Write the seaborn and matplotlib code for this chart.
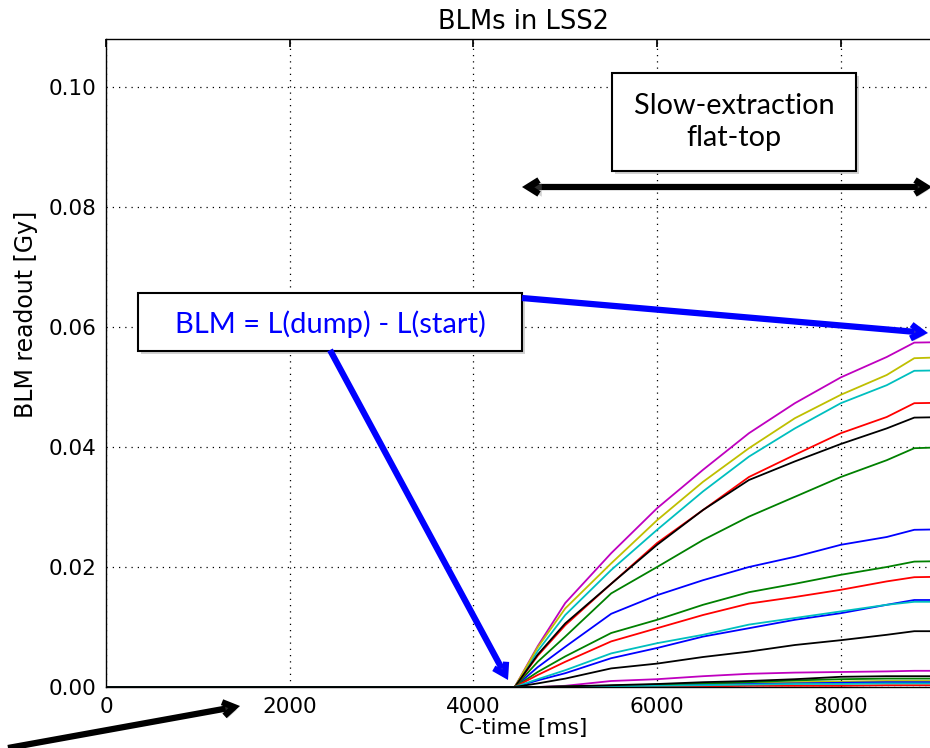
import numpy as np
import pandas as pd
import seaborn as sns
import matplotlib
matplotlib.use("Agg")
import matplotlib.pyplot as plt
from matplotlib.patches import Rectangle, FancyArrowPatch
from matplotlib.ticker import FormatStrFormatter, MultipleLocator
import matplotlib.patheffects as pe

# Sampling times of the BLM integrals [ms]
t_ms = [0, 4450, 4700, 5000, 5500, 6000, 6500, 7000, 7500, 8000, 8500, 8800, 9200]

# Integrated loss per monitor [Gy]
blm_m1 = [0, 0, 0.0068, 0.0140, 0.0223, 0.0298, 0.0362, 0.0423, 0.0473, 0.0516, 0.0550, 0.0574, 0.0575]
blm_y1 = [0, 0, 0.0066, 0.0131, 0.0206, 0.0278, 0.0342, 0.0398, 0.0448, 0.0487, 0.0520, 0.0548, 0.0550]
blm_c1 = [0, 0, 0.0060, 0.0120, 0.0195, 0.0262, 0.0326, 0.0384, 0.0431, 0.0473, 0.0503, 0.0527, 0.0528]
blm_r1 = [0, 0, 0.0052, 0.0103, 0.0172, 0.0240, 0.0295, 0.0350, 0.0387, 0.0423, 0.0450, 0.0473, 0.0474]
blm_k1 = [0, 0, 0.0054, 0.0106, 0.0172, 0.0237, 0.0295, 0.0345, 0.0376, 0.0405, 0.0431, 0.0449, 0.0450]
blm_g1 = [0, 0, 0.0042, 0.0084, 0.0156, 0.0200, 0.0245, 0.0284, 0.0317, 0.0350, 0.0378, 0.0398, 0.0400]
blm_b1 = [0, 0, 0.0033, 0.0067, 0.0122, 0.0153, 0.0178, 0.0200, 0.0217, 0.0237, 0.0250, 0.0262, 0.0263]
blm_g2 = [0, 0, 0.0025, 0.0051, 0.0090, 0.0112, 0.0137, 0.0158, 0.0172, 0.0187, 0.0200, 0.0209, 0.0210]
blm_r2 = [0, 0, 0.0020, 0.0042, 0.0076, 0.0098, 0.0120, 0.0139, 0.0150, 0.0162, 0.0176, 0.0183, 0.0184]
blm_c2 = [0, 0, 0.0013, 0.0028, 0.0056, 0.0073, 0.0087, 0.0104, 0.0115, 0.0126, 0.0137, 0.0142, 0.0142]
blm_b2 = [0, 0, 0.0011, 0.0023, 0.0048, 0.0065, 0.0084, 0.0098, 0.0112, 0.0123, 0.0137, 0.0145, 0.0145]
blm_k2 = [0, 0, 0.0006, 0.0014, 0.0031, 0.0039, 0.0050, 0.0059, 0.0070, 0.0078, 0.0087, 0.0093, 0.0093]
blm_m2 = [0, 0, 0, 0.0002, 0.0010, 0.0013, 0.0018, 0.0022, 0.0024, 0.0025, 0.0026, 0.0027, 0.0027]
blm_k3 = [0, 0, 0, 0.0001, 0.0003, 0.0005, 0.0008, 0.0010, 0.0013, 0.0017, 0.0018, 0.0018, 0.0018]
blm_g3 = [0, 0, 0, 0.0001, 0.0002, 0.0004, 0.0006, 0.0008, 0.0011, 0.0013, 0.0014, 0.0014, 0.0014]
blm_y2 = [0, 0, 0, 0, 0.0002, 0.0003, 0.0005, 0.0006, 0.0008, 0.0009, 0.0010, 0.0010, 0.0010]
blm_b3 = [0, 0, 0, 0, 0.0002, 0.0003, 0.0004, 0.0005, 0.0006, 0.0007, 0.0008, 0.0008, 0.0008]
blm_c3 = [0, 0, 0, 0, 0.0001, 0.0002, 0.0003, 0.0004, 0.0005, 0.0005, 0.0006, 0.0006, 0.0006]
blm_r3 = [0, 0, 0, 0, 0, 0.0001, 0.0001, 0.0002, 0.0002, 0.0002, 0.0003, 0.0003, 0.0003]

series = {
    "b1": blm_b1, "g1": blm_g1, "r1": blm_r1, "c1": blm_c1, "m1": blm_m1, "y1": blm_y1, "k1": blm_k1,
    "b2": blm_b2, "g2": blm_g2, "r2": blm_r2, "c2": blm_c2, "m2": blm_m2, "y2": blm_y2, "k2": blm_k2,
    "b3": blm_b3, "g3": blm_g3, "r3": blm_r3, "c3": blm_c3, "k3": blm_k3,
}
classic = {"b": "#0000ff", "g": "#008000", "r": "#ff0000", "c": "#00bfbf",
           "m": "#bf00bf", "y": "#bfbf00", "k": "#000000"}
palette = {name: classic[name[0]] for name in series}

df = pd.concat(
    [pd.DataFrame({"t": t_ms, "v": vals, "blm": name}) for name, vals in series.items()],
    ignore_index=True,
)

sns.set_theme(style="white")
plt.rcParams.update({
    "font.family": ["DejaVu Sans"],
    "text.color": "black",
    "axes.labelcolor": "black",
    "axes.titlecolor": "black",
    "axes.edgecolor": "black",
    "axes.linewidth": 1.0,
    "xtick.direction": "in",
    "ytick.direction": "in",
    "xtick.top": True,
    "ytick.right": True,
    "xtick.major.size": 6,
    "ytick.major.size": 6,
    "xtick.color": "black",
    "ytick.color": "black",
})

W, H = 930, 748
fig = plt.figure(figsize=(W / 100, H / 100), dpi=100)
ax = fig.add_axes([106 / W, 1 - 687 / H, 834 / W, 648 / H])

sns.lineplot(data=df, x="t", y="v", hue="blm", palette=palette, legend=False,
             linewidth=1.3, ax=ax, estimator=None, sort=False)

ax.set_xlim(0, 9080)
ax.set_ylim(0, 0.108)
ax.xaxis.set_major_locator(MultipleLocator(2000))
ax.yaxis.set_major_locator(MultipleLocator(0.02))
ax.yaxis.set_major_formatter(FormatStrFormatter("%.2f"))
ax.tick_params(labelsize=15.5, pad=7)
ax.grid(True, color="black", linestyle=(0, (1, 4)), linewidth=0.9)
ax.set_title("BLMs in LSS2", fontsize=18.5, pad=7)
ax.set_xlabel("C-time [ms]", fontsize=15.7, labelpad=1)
ax.set_ylabel("BLM readout [Gy]", fontsize=17)
ax.yaxis.set_label_coords(-0.082, (687 - 314) / 648)


def fpt(x, y):
    return (x / W, 1 - y / H)


shadow = [pe.SimplePatchShadow(offset=(2, -2), shadow_rgbFace="0.5", alpha=0.35), pe.Normal()]
ann_font = ["Lato", "DejaVu Sans"]

# Text boxes
for (x0, y0, x1, y1) in [(612, 73, 856, 171), (138, 293, 522, 351)]:
    r = Rectangle(fpt(x0, y1), (x1 - x0) / W, (y1 - y0) / H, transform=fig.transFigure,
                  facecolor="white", edgecolor="black", linewidth=1.5, zorder=5)
    r.set_path_effects(shadow)
    fig.add_artist(r)

fig.text(734 / W, 1 - 122 / H, "Slow-extraction\nflat-top", ha="center", va="center",
         fontsize=20.8, family=ann_font, color="black", linespacing=1.25, zorder=6)
fig.text(330 / W, 1 - 324 / H, "BLM = L(dump) - L(start)", ha="center", va="center",
         fontsize=21, family=ann_font, color="#0000ff", zorder=6)

# Arrows
arrows = [
    ((522, 187), (932, 187), "<->", "black"),
    ((522, 298), (928, 333), "->", "#0000ff"),
    ((330, 350), (508, 680), "->", "#0000ff"),
    ((8, 748), (240, 706), "->", "black"),
]
for (p0, p1, style, col) in arrows:
    a = FancyArrowPatch(fpt(*p0), fpt(*p1), transform=fig.transFigure,
                        arrowstyle=f"{style},head_length=8,head_width=5",
                        color=col, linewidth=4.5, zorder=7,
                        shrinkA=0, shrinkB=0, joinstyle="miter", capstyle="butt")
    a.set_path_effects(shadow)
    fig.add_artist(a)

fig.savefig("out.png", dpi=100)
